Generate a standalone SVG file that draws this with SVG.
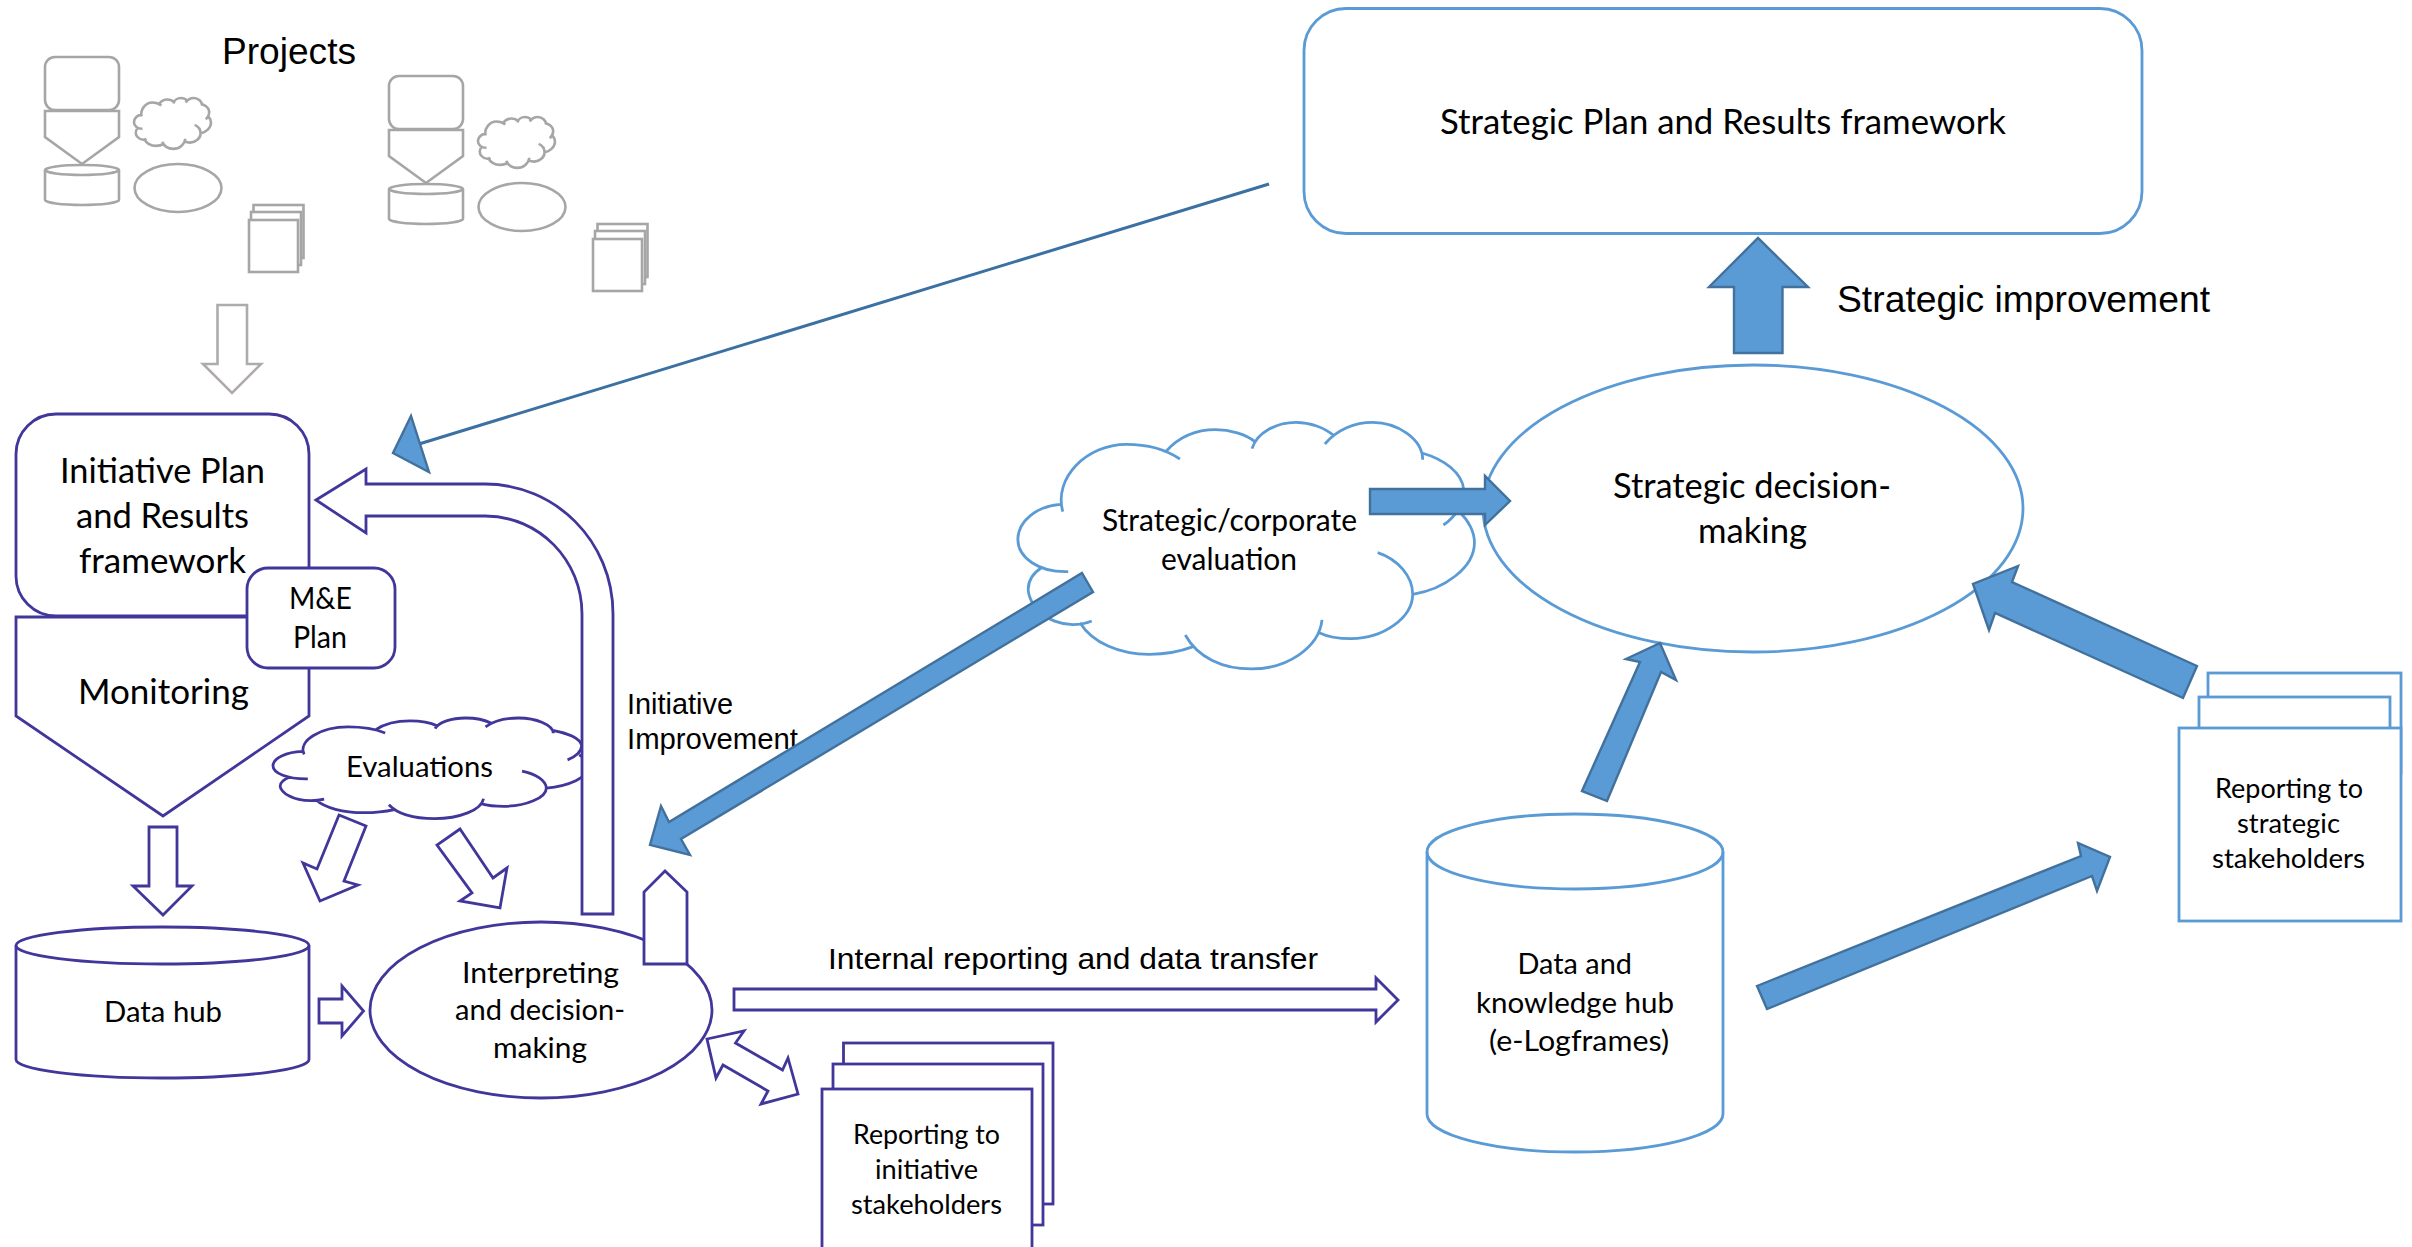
<svg xmlns="http://www.w3.org/2000/svg" xmlns:xlink="http://www.w3.org/1999/xlink" width="2412" height="1247" viewBox="0 0 2412 1247">
<style>
text{fill:#000}
.a{font-family:"Liberation Sans",Arial,sans-serif}
.c{font-family:Lato,"Open Sans",sans-serif}
.in{fill:#fff;stroke:#41369a;stroke-width:2.8;stroke-linejoin:miter}
.bl{fill:#fff;stroke:#5b9bd5;stroke-width:2.8}
.gr{fill:#fff;stroke:#a6a6a6;stroke-width:2.6}
.ba{fill:#5b9bd5;stroke:#41719c;stroke-width:2.4}
.none{fill:none}
.cl{fill:none;vector-effect:non-scaling-stroke}
</style>
<defs>
<path id="cloud" class="cl" d="M232,392C205,290 300,190 410,190C465,190 520,205 560,234M522,210C560,165 610,146 660,146C700,146 745,160 770,182M762,203C775,155 830,124 885,124C925,124 965,140 990,163M966,189C1000,145 1050,124 1100,124C1170,124 1240,175 1240,236M1238,216C1300,235 1350,275 1355,325C1356,370 1330,410 1298,432M1345,395C1370,420 1385,455 1385,485C1385,560 1300,625 1212,640M1114,515C1170,535 1212,585 1212,640C1212,710 1130,773 1040,773C1005,773 975,768 950,755M958,717C950,800 860,864 760,864C680,864 610,830 575,762M597,797C560,812 520,820 475,820C390,820 315,785 280,725M313,720C295,728 275,731 260,731C225,731 190,715 170,695C150,680 135,645 135,625C135,600 150,575 175,558M247,572C165,575 106,530 106,475C106,420 160,375 225,370"/>
<g id="project-set">
<rect class="gr" x="45" y="56" width="74" height="53" rx="10"/>
<path class="gr" d="M45,110H119V136L82,163L45,136Z"/>
<path class="gr" d="M45,169A37,5 0 0 1 119,169V199A37,5 0 0 1 45,199Z"/>
<path class="gr none" d="M45,169A37,5 0 0 0 119,169"/>
<use xlink:href="#cloud" href="#cloud" transform="translate(127.6,88.5) scale(.0602,.0687)" stroke="#a6a6a6" stroke-width="2.6"/>
<ellipse class="gr" cx="178" cy="187" rx="43.5" ry="24"/>
<rect class="gr" x="253.5" y="204" width="50" height="53"/>
<rect class="gr" x="251" y="211" width="50" height="53"/>
<rect class="gr" x="249" y="219" width="49" height="52"/>
</g>
</defs>
<g id="diagram" transform="translate(0,1)">
<g id="projects-label"><text class="a" x="222" y="63" font-size="37" textLength="134" lengthAdjust="spacingAndGlyphs">Projects</text></g>
<g id="project-a"><use xlink:href="#project-set" href="#project-set"/></g>
<g id="project-b"><use xlink:href="#project-set" href="#project-set" transform="translate(344,19)"/></g>

<g id="strategic-plan">
<rect class="bl" x="1304" y="7.5" width="838" height="225" rx="42" stroke-width="3"/>
<text class="c" x="1440" y="132.5" font-size="34" textLength="566" lengthAdjust="spacingAndGlyphs">Strategic Plan and Results framework</text>
</g>
<g id="strategic-improvement-label"><text class="a" x="1837" y="310.5" font-size="37" textLength="373" lengthAdjust="spacingAndGlyphs">Strategic improvement</text></g>

<g id="strategic-decision">
<ellipse class="bl" cx="1753" cy="507.5" rx="270" ry="143.5"/>
<text class="c" x="1613" y="497" font-size="34" textLength="278" lengthAdjust="spacingAndGlyphs">Strategic decision-</text>
<text class="c" x="1698" y="542" font-size="34" textLength="109" lengthAdjust="spacingAndGlyphs">making</text>
</g>

<g id="strategic-evaluation">
<use xlink:href="#cloud" href="#cloud" transform="translate(980,380) scale(.357,.3333)" stroke="#5b9bd5" stroke-width="2.8"/>
<text class="c" x="1102" y="530" font-size="30" textLength="255" lengthAdjust="spacingAndGlyphs">Strategic/corporate</text>
<text class="c" x="1161" y="569" font-size="30" textLength="136" lengthAdjust="spacingAndGlyphs">evaluation</text>
</g>

<g id="knowledge-hub">
<path class="bl" d="M1427,851A148,38 0 0 1 1723,851V1113A148,38 0 0 1 1427,1113Z"/>
<path class="bl none" d="M1427,851A148,37 0 0 0 1723,851"/>
<text class="c" x="1517.5" y="973" font-size="28" textLength="114.5" lengthAdjust="spacingAndGlyphs">Data and</text>
<text class="c" x="1476" y="1012" font-size="28" textLength="198" lengthAdjust="spacingAndGlyphs">knowledge hub</text>
<text class="c" x="1489" y="1050" font-size="28" textLength="180" lengthAdjust="spacingAndGlyphs">(e-Logframes)</text>
</g>

<g id="strategic-reports">
<rect class="bl" x="2208" y="672" width="193" height="100"/>
<rect class="bl" x="2199" y="696" width="191" height="100"/>
<rect class="bl" x="2179" y="727" width="222" height="193"/>
<text class="c" x="2215" y="797" font-size="27" textLength="148" lengthAdjust="spacingAndGlyphs">Reporting to</text>
<text class="c" x="2237" y="832" font-size="27" textLength="103" lengthAdjust="spacingAndGlyphs">strategic</text>
<text class="c" x="2212" y="867" font-size="27" textLength="153" lengthAdjust="spacingAndGlyphs">stakeholders</text>
</g>

<g id="initiative-plan">
<rect class="in" x="16" y="413" width="293" height="202" rx="40"/>
<text class="c" x="60" y="482" font-size="34" textLength="205" lengthAdjust="spacingAndGlyphs">Initiative Plan</text>
<text class="c" x="76" y="527" font-size="34" textLength="173" lengthAdjust="spacingAndGlyphs">and Results</text>
<text class="c" x="79" y="572" font-size="34" textLength="167" lengthAdjust="spacingAndGlyphs">framework</text>
</g>
<g id="monitoring">
<path class="in" d="M16,616H309V715L163,815L16,715Z"/>
<text class="c" x="78" y="703" font-size="35" textLength="171" lengthAdjust="spacingAndGlyphs">Monitoring</text>
</g>
<g id="me-plan">
<rect class="in" x="247" y="567" width="148" height="100" rx="21"/>
<text class="c" x="289" y="608" font-size="30" textLength="63" lengthAdjust="spacingAndGlyphs">M&amp;E</text>
<text class="c" x="293" y="647" font-size="30" textLength="54" lengthAdjust="spacingAndGlyphs">Plan</text>
</g>
<g id="evaluations">
<use xlink:href="#cloud" href="#cloud" transform="translate(246.8,700.1) scale(.2471,.1361)" stroke="#41369a" stroke-width="2.8"/>
<text class="c" x="346" y="776" font-size="29" textLength="147" lengthAdjust="spacingAndGlyphs">Evaluations</text>
</g>
<g id="data-hub">
<path class="in" d="M16,944.5A146.5,18.5 0 0 1 309,944.5V1058.5A146.5,18.5 0 0 1 16,1058.5Z"/>
<path class="in none" d="M16,944.5A146.5,18.5 0 0 0 309,944.5"/>
<text class="c" x="104" y="1021" font-size="28" textLength="118" lengthAdjust="spacingAndGlyphs">Data hub</text>
</g>
<g id="interpreting">
<ellipse class="in" cx="541" cy="1009" rx="171" ry="88"/>
<text class="c" x="462" y="982" font-size="28" textLength="157" lengthAdjust="spacingAndGlyphs">Interpreting</text>
<text class="c" x="455" y="1019" font-size="28" textLength="170" lengthAdjust="spacingAndGlyphs">and decision-</text>
<text class="c" x="493" y="1057" font-size="28" textLength="94" lengthAdjust="spacingAndGlyphs">making</text>
</g>
<g id="initiative-reports">
<rect class="in" x="843.5" y="1042" width="209.5" height="161"/>
<rect class="in" x="833" y="1063" width="210" height="161"/>
<rect class="in" x="822" y="1088" width="210" height="170"/>
<text class="c" x="853" y="1143" font-size="27" textLength="147" lengthAdjust="spacingAndGlyphs">Reporting to</text>
<text class="c" x="875" y="1178" font-size="27" textLength="103" lengthAdjust="spacingAndGlyphs">initiative</text>
<text class="c" x="851" y="1213" font-size="27" textLength="151" lengthAdjust="spacingAndGlyphs">stakeholders</text>
</g>
<g id="labels">
<text class="a" x="627" y="713" font-size="29" textLength="106" lengthAdjust="spacingAndGlyphs">Initiative</text>
<text class="a" x="627" y="748" font-size="29" textLength="171" lengthAdjust="spacingAndGlyphs">Improvement</text>
<text class="a" x="828" y="968" font-size="29" textLength="490" lengthAdjust="spacingAndGlyphs">Internal reporting and data transfer</text>
</g>

<g id="connectors">
<path class="gr" style="stroke:#afabab" d="M217.5,304H247V363H261L232,392L203,363H217.5Z"/>
<path fill="none" stroke="#3b70a2" stroke-width="3" d="M1269,183L419,443"/>
<path class="ba" d="M411,415L393,452L429,471Z"/>
<path class="in" d="M316,499L366,468V483H485C555,483 613,540 613,613V913H582V613C582,560 540,515 485,515H366V532Z"/>
<path class="in" d="M149,826H177V885H192L163,914L133,885H149Z"/>
<path class="in" d="M339,814L366,825L344,880L358,884L320,900L303,862L317,868Z"/>
<path class="in" d="M460,828L437,844L472,892L460,900L500,907L507,867L493,877Z"/>
<path class="in" d="M319,998H342V985L363.5,1010L342,1035V1022H319Z"/>
<path class="in" d="M644,963V891L665,870L687,891V963Z"/>
<path class="in" d="M734,988H1376V977L1398,999L1376,1021V1009H734Z"/>
<path class="in" d="M707,1038L744,1030L735.5,1042L782.5,1069L788,1057L798,1093L761,1103L768,1090L723,1064L716,1077Z"/>
<path class="ba" d="M1082,572L1093,591L681,838L690,854L650,844L661,805L669,821Z"/>
<path class="ba" d="M1370,488H1485V475L1510,500L1485,524V513H1370Z"/>
<path class="ba" d="M1734,352V286H1709L1758,237L1808,286H1782.5V352Z"/>
<path class="ba" d="M1582,790L1640,661L1626,658L1660,642L1676,679L1661,671L1607,800Z"/>
<path class="ba" d="M2197,665L2183,697L1995,612L1989,629L1973,583L2018,565L2012,581Z"/>
<path class="ba" d="M1757,985L2081,855L2078,842L2110,856L2097,890L2092,875L1767,1008Z"/>
</g>
</g>
</svg>
